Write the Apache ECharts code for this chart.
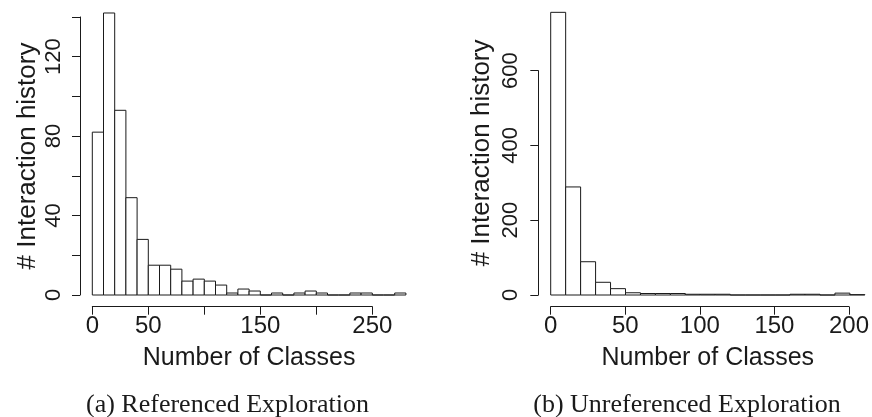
<!DOCTYPE html>
<html>
<head>
<meta charset="utf-8">
<script src="https://cdn.jsdelivr.net/npm/echarts@6/dist/echarts.min.js"></script>
<style>
html,body{margin:0;padding:0;background:#fff;}
#chart{width:872px;height:417px;}
</style>
</head>
<body>
<div id="chart"></div>
<script>
// ---- data ----
var binWidth = 10;
var leftCounts = [82,142,93,49,28,15,15,13,7,8,7,5,1,3,2,0,1,0,1,2,1,0,0,1,1,0,0,1];
var rightCounts = [756,289,89,34,17,6,4,4,4,2,2,2,0,0,0,0,2,2,0,5,1];
var leftXTickLabels = ['0','50','','150','','250'];
var rightXTickLabels = ['0','50','100','150','200'];
var leftYTickLabels = ['0','','40','','80','','120',''];
var rightYTickLabels = ['0','200','400','600'];
var xTitle = 'Number of Classes';
var yTitle = '# Interaction history';
var captionLeft = '(a) Referenced Exploration';
var captionRight = '(b) Unreferenced Exploration';

function toBins(counts){
  return counts.map(function(c,i){ return [i*binWidth, (i+1)*binWidth, c]; });
}

var ink = '#1a1a1a';
var sans = 'Liberation Sans, Arial, sans-serif';
var serif = 'Liberation Serif, Times New Roman, serif';

function renderBar(params, api){
  var p0 = api.coord([api.value(0), api.value(2)]);
  var p1 = api.coord([api.value(1), 0]);
  return {
    type: 'rect',
    shape: {x: p0[0], y: p0[1], width: p1[0]-p0[0], height: p1[1]-p0[1]},
    style: {fill: '#fff', stroke: ink, lineWidth: 1}
  };
}

function labelFrom(arr, step){
  return function(v){ var i = Math.round(v/step); return arr[i] !== undefined ? arr[i] : ''; };
}

// scales (px per unit)
var LX = 1.12, LY = 1.986, RX = 1.496, RY = 0.3739;
var base = 295;

var option = {
  animation: false,
  grid: [
    {left: 92.3, top: base - 145*LY, width: 280*LX, height: 145*LY},
    {left: 92.3, top: base - 140*LY, width: 250*LX, height: 140*LY},
    {left: 550.7, top: base - 760*RY, width: 210*RX, height: 760*RY},
    {left: 550.7, top: base - 600*RY, width: 200*RX, height: 600*RY}
  ],
  xAxis: [
    {gridIndex:0, type:'value', min:0, max:280,
     axisLine:{show:false}, axisTick:{show:false}, axisLabel:{show:false}, splitLine:{show:false},
     name: xTitle, nameLocation:'middle', nameGap: 51, nameMoveOverlap:false,
     nameTextStyle:{fontFamily:sans, fontSize:25, color:ink}},
    {gridIndex:1, type:'value', min:0, max:250, interval:50, offset:11.7,
     axisLine:{onZero:false, lineStyle:{color:ink,width:1}}, axisTick:{length:8, lineStyle:{color:ink}},
     axisLabel:{formatter: labelFrom(leftXTickLabels,50), fontFamily:sans, fontSize:24, color:ink, margin:8, showMinLabel:true, showMaxLabel:true},
     splitLine:{show:false}},
    {gridIndex:2, type:'value', min:0, max:210,
     axisLine:{show:false}, axisTick:{show:false}, axisLabel:{show:false}, splitLine:{show:false},
     name: xTitle, nameLocation:'middle', nameGap: 51, nameMoveOverlap:false,
     nameTextStyle:{fontFamily:sans, fontSize:25, color:ink}},
    {gridIndex:3, type:'value', min:0, max:200, interval:50, offset:11.7,
     axisLine:{onZero:false, lineStyle:{color:ink,width:1}}, axisTick:{length:8, lineStyle:{color:ink}},
     axisLabel:{formatter: labelFrom(rightXTickLabels,50), fontFamily:sans, fontSize:24, color:ink, margin:8, showMinLabel:true, showMaxLabel:true},
     splitLine:{show:false}}
  ],
  yAxis: [
    {gridIndex:0, type:'value', min:0, max:145, show:false},
    {gridIndex:1, type:'value', min:0, max:140, interval:20, offset:12.3,
     axisLine:{show:true, onZero:false, lineStyle:{color:ink,width:1}}, axisTick:{show:true, length:8, lineStyle:{color:ink}},
     axisLabel:{formatter: labelFrom(leftYTickLabels,20), rotate:90, fontFamily:sans, fontSize:22, color:ink, margin:15, showMinLabel:true, showMaxLabel:true},
     splitLine:{show:false},
     name: yTitle, nameLocation:'middle', nameRotate:90, nameGap: 39, nameMoveOverlap:false,
     nameTextStyle:{fontFamily:sans, fontSize:26, color:ink}},
    {gridIndex:2, type:'value', min:0, max:760,
     axisLine:{show:false}, axisTick:{show:false}, axisLabel:{show:false}, splitLine:{show:false},
     name: yTitle, nameLocation:'middle', nameRotate:90, nameGap: 55.5, nameMoveOverlap:false,
     nameTextStyle:{fontFamily:sans, fontSize:26, color:ink}},
    {gridIndex:3, type:'value', min:0, max:600, interval:200, offset:12.4,
     axisLine:{show:true, onZero:false, lineStyle:{color:ink,width:1}}, axisTick:{show:true, length:8, lineStyle:{color:ink}},
     axisLabel:{formatter: labelFrom(rightYTickLabels,200), rotate:90, fontFamily:sans, fontSize:22, color:ink, margin:16, showMinLabel:true, showMaxLabel:true},
     splitLine:{show:false}}
  ],
  series: [
    {type:'custom', xAxisIndex:0, yAxisIndex:0, renderItem: renderBar, data: toBins(leftCounts), encode:{x:[0,1], y:2}},
    {type:'custom', xAxisIndex:2, yAxisIndex:2, renderItem: renderBar, data: toBins(rightCounts), encode:{x:[0,1], y:2}}
  ],
  graphic: [
    {type:'text', x: 227.5, y: 405, style:{text: captionLeft, font: '26px ' + serif, fill: ink, align:'center', verticalAlign:'middle'}},
    {type:'text', x: 687, y: 405, style:{text: captionRight, font: '26px ' + serif, fill: ink, align:'center', verticalAlign:'middle'}}
  ]
};

var chart = echarts.init(document.getElementById('chart'), null, {renderer:'canvas'});
chart.setOption(option);
</script>
</body>
</html>
